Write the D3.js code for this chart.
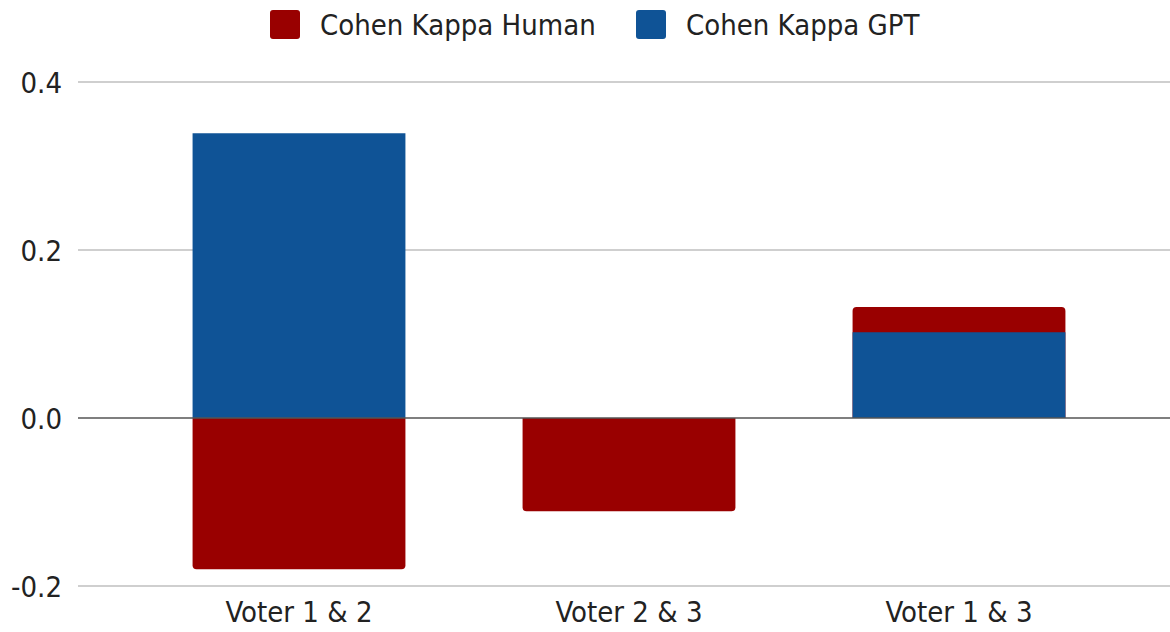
<!DOCTYPE html>
<html>
<head>
<meta charset="utf-8">
<script src="https://cdn.jsdelivr.net/npm/d3@7"></script>
<style>
  html, body { margin: 0; padding: 0; background: #fff; }
  svg text { font-family: "DejaVu Sans Condensed", "DejaVu Sans", sans-serif; font-stretch: condensed; fill: #222; }
</style>
</head>
<body>
<svg id="chart" width="1170" height="632"></svg>
<script>
// Cohen's kappa agreement between voter pairs
const categories = ["Voter 1 & 2", "Voter 2 & 3", "Voter 1 & 3"];
const seriesNames = ["Cohen Kappa Human", "Cohen Kappa GPT"];
const humanValues = [-0.180, -0.111, 0.132];
const gptValues = [0.339, 0.0, 0.102];
const yTicks = [-0.2, 0.0, 0.2, 0.4];
const colors = ["#990000", "#0f5396"];

const svg = d3.select("#chart");
const plot = { left: 78, right: 1170, top: 82, bottom: 586 };

const x = d3.scaleBand()
  .domain(categories)
  .range([134, 1124])
  .paddingInner(0.355)
  .paddingOuter(0.1775);

const y = d3.scaleLinear().domain([-0.2, 0.4]).range([plot.bottom, plot.top]);

// gridlines
svg.append("g").selectAll("line")
  .data(yTicks.filter(t => t !== 0))
  .join("line")
  .attr("x1", plot.left).attr("x2", plot.right)
  .attr("y1", d => y(d)).attr("y2", d => y(d))
  .attr("stroke", "#cfcfcf").attr("stroke-width", 2);

// y tick labels (plain hyphen for negatives)
const fmt = d => d3.format(".1f")(d).replace("\u2212", "-");
const yAxis = d3.axisLeft(y).tickValues(yTicks).tickFormat(fmt).tickSize(0).tickPadding(0);
const ya = svg.append("g").attr("transform", "translate(62,0)").call(yAxis);
ya.select(".domain").remove();
ya.selectAll("text").attr("font-size", 29).attr("font-family", null).attr("fill", "#222").attr("dy", "0.35em");

// bar with optionally rounded far end
function barPath(x0, w, v, rad) {
  const y0 = y(0), y1 = y(v);
  const r = Math.min(rad, Math.abs(y1 - y0));
  const s = v >= 0 ? 1 : -1;
  return `M${x0},${y0}V${y1 + s * r}Q${x0},${y1} ${x0 + r},${y1}H${x0 + w - r}Q${x0 + w},${y1} ${x0 + w},${y1 + s * r}V${y0}Z`;
}

const series = [humanValues, gptValues];
const radii = [4, 0];
series.forEach((vals, si) => {
  svg.append("g").selectAll("path")
    .data(categories.map((c, i) => ({ c, v: vals[i] })).filter(d => d.v !== 0))
    .join("path")
    .attr("d", d => barPath(x(d.c), x.bandwidth(), d.v, radii[si]))
    .attr("fill", colors[si]);
});

// zero line
svg.append("line")
  .attr("x1", plot.left).attr("x2", plot.right)
  .attr("y1", y(0)).attr("y2", y(0))
  .attr("stroke", "#555").attr("stroke-width", 1.5);

// x labels
const xAxis = d3.axisBottom(x).tickSize(0).tickPadding(0);
const xa = svg.append("g").attr("transform", "translate(0,612)").call(xAxis);
xa.select(".domain").remove();
xa.selectAll("text").attr("font-size", 29).attr("font-family", null).attr("fill", "#222").attr("dy", "0.35em");

// legend
const legendItems = [
  { name: seriesNames[0], color: colors[0], x: 270 },
  { name: seriesNames[1], color: colors[1], x: 636 }
];
const lg = svg.append("g");
legendItems.forEach(it => {
  lg.append("rect").attr("x", it.x).attr("y", 10).attr("width", 30).attr("height", 29)
    .attr("rx", 3).attr("fill", it.color);
  lg.append("text").attr("x", it.x + 50).attr("y", 25).attr("dy", "0.35em")
    .attr("font-size", 29).text(it.name);
});
</script>
</body>
</html>
